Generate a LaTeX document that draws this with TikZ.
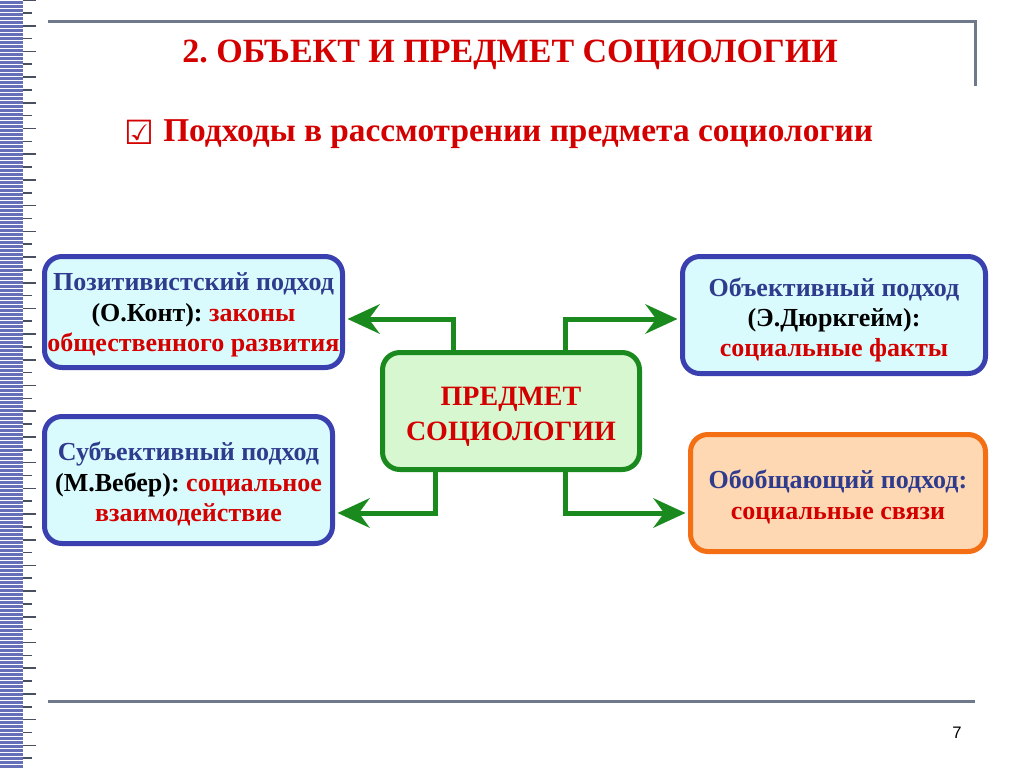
\documentclass[tikz,border=0pt]{standalone}
\usepackage{fontspec}
\setmainfont{Liberation Serif}
\newfontfamily\dejavu{DejaVu Sans}
\newfontfamily\lsans{Liberation Sans}
\usetikzlibrary{arrows.meta}
\frenchspacing
\definecolor{tred}{HTML}{D40000}
\definecolor{bblue}{HTML}{3A40B0}
\definecolor{bfill}{HTML}{DAFBFD}
\definecolor{tblue}{HTML}{2F3C8E}
\definecolor{gline}{HTML}{1B8A1E}
\definecolor{gfill}{HTML}{D6F7CF}
\definecolor{oline}{HTML}{F46E14}
\definecolor{ofill}{HTML}{FDD8B2}
\definecolor{rulec}{HTML}{6E7A8C}
\definecolor{stripc}{HTML}{6670B8}
\definecolor{tickc}{HTML}{4A5060}
\begin{document}
\begin{tikzpicture}[x=0.75pt,y=-0.75pt,
  box/.style={draw=bblue,fill=bfill,line width=3.75pt,rounded corners=13pt,inner sep=0pt},
  obox/.style={box,draw=oline,fill=ofill},
  cbox/.style={box,draw=gline,fill=gfill},
  btext/.style={inner sep=0pt,align=center,font=\bfseries\fontsize{19.5}{22.7}\selectfont},
  ctext/.style={inner sep=0pt,align=center,text=tred,font=\bfseries\fontsize{21}{26}\selectfont},
  conn/.style={draw=gline,line width=3.75pt,shorten >=1.9pt,
    -{Stealth[length=24pt,width=22pt,inset=8pt]}},
  rulestyle/.style={draw=rulec,line width=2.25pt}
]
\fill[white] (0,0) rectangle (1024,768);
\useasboundingbox (0,0) rectangle (1024,768);
% left strip
\fill[stripc] (0,0) rectangle (23,768);
\foreach \y in {0,4,...,768} \draw[white,line width=0.6pt] (0,\y) -- (23,\y);
\foreach \i in {0,...,59} {
  \pgfmathsetmacro{\yy}{\i*12.85}
  \pgfmathsetmacro{\xx}{mod(\i,2)==0 ? 36 : 32}
  \draw[tickc,line width=1.2pt] (23,\yy) -- (\xx,\yy);
}
% rules
\draw[rulestyle] (48,21) -- (975,21) -- (975,86);
\draw[rulestyle] (48,701) -- (975,701);
\node[font=\lsans\fontsize{12.5}{14}\selectfont] (pg) at (957,733) {7};
% titles
\node[font=\bfseries\fontsize{25.5}{28}\selectfont,text=tred] (title) at (510,55) {2. ОБЪЕКТ И ПРЕДМЕТ СОЦИОЛОГИИ};
\node[font=\dejavu\bfseries\fontsize{25}{26}\selectfont,text=tred] (chk) at (139,132) {☑};
\node[font=\bfseries\fontsize{25}{28}\selectfont,text=tred,anchor=west,inner sep=0pt] (sub) at (163,134) {Подходы в рассмотрении предмета социологии};
% boxes
\node[box,minimum width=223.5pt,minimum height=83.25pt] (b1) at (193.5,312) {};
\node[box,minimum width=216pt,minimum height=95.25pt] (b2) at (188.5,480) {};
\node[box,minimum width=227.25pt,minimum height=87.75pt] (b3) at (834,315) {};
\node[obox,minimum width=221.25pt,minimum height=87.75pt] (b4) at (838,493) {};
\node[cbox,minimum width=192.75pt,minimum height=87.75pt] (c) at (511,411) {};
% texts
\node[btext] (t1) at (193.5,315)
 {{\color{tblue}Позитивистский подход}\\ (О.Конт): {\color{tred}законы}\\ {\color{tred}общественного развития}};
\node[btext] (t2) at (188.5,484)
 {{\color{tblue}Субъективный подход}\\ (М.Вебер): {\color{tred}социальное}\\ {\color{tred}взаимодействие}};
\node[btext] (t3) at (834,320)
 {{\color{tblue}Объективный подход}\\ (Э.Дюркгейм):\\ {\color{tred}социальные факты}};
\node[btext] (t4) at (838,497)
 {{\color{tblue}Обобщающий подход:}\\ {\color{tred}социальные связи}};
\node[ctext] (ct) at (511,417) {ПРЕДМЕТ\\ СОЦИОЛОГИИ};
% connectors
\draw[conn] ([xshift=55pt]c.north west) |- ([yshift=-5.25pt]b1.east);
\draw[conn] ([xshift=139pt]c.north west) |- ([yshift=-3pt]b3.west);
\draw[conn] ([xshift=41.6pt]c.south west) |- ([yshift=-24.75pt]b2.east);
\draw[conn] ([xshift=139pt]c.south west) |- ([yshift=-15pt]b4.west);
\end{tikzpicture}
\end{document}
